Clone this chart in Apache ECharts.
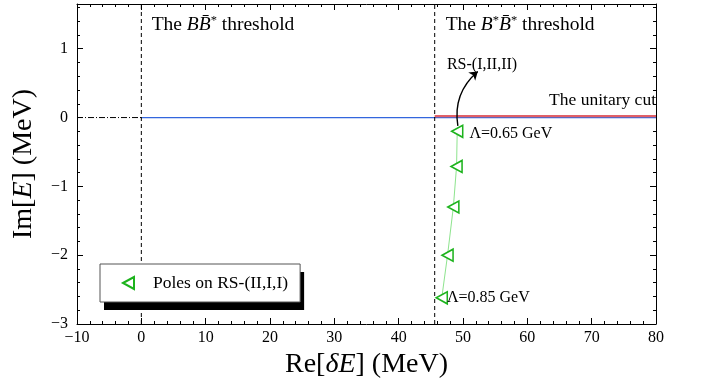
<!DOCTYPE html>
<html>
<head>
<meta charset="utf-8">
<script src="https://cdn.jsdelivr.net/npm/echarts@6/dist/echarts.min.js"></script>
<style>html,body{margin:0;padding:0;background:#fff}#c{width:704px;height:385px}</style>
</head>
<body>
<div id="c"></div>
<script>
// ---- data ----
const xRange = [-10, 80];
const yRange = [-3, 1.65];
const thresholds = [0, 45.6];
const poleRe = [49.1, 49.0, 48.5, 47.6, 46.7];
const poleIm = [-0.20, -0.71, -1.30, -2.00, -2.62];
const poleName = 'Poles on RS-(II,I,I)';
const cutStart = 45.6;
const arrowFrom = [49.2, -0.12];
const arrowTo = [52.3, 0.67];
const annoText = ['{t|The }{i|B}{i|B\u0304}{s|*}{t| threshold}', '{t|The }{i|B}{s|*}{i|B\u0304}{s|*}{t| threshold}', '{m|RS-(I,II,II)}', '{u|The unitary cut}', '{m|\u039B=0.65 GeV}', '{m|\u039B=0.85 GeV}'];
const annoX = [1.6, 47.3, 47.5, 80, 51.0, 47.5];
const annoY = [1.34, 1.34, 0.77, 0.25, -0.24, -2.62];
const annoSide = ['right', 'right', 'right', 'left', 'right', 'right'];

const FONT = 'Liberation Serif';
const green = '#1db31d';
const leftTri = 'path://M0,6 L11,0 L11,12 Z';
const fmt = v => (Math.abs(v - Math.round(v)) < 1e-9 ? String(Math.round(v)).replace('-', '\u2212') : '');

const rich = {
  t: {fontFamily: FONT, fontSize: 19.5, color: '#000'},
  u: {fontFamily: FONT, fontSize: 17.5, color: '#000'},
  m: {fontFamily: FONT, fontSize: 16, color: '#000'},
  i: {fontFamily: FONT, fontSize: 19.5, fontStyle: 'italic', color: '#000'},
  s: {fontFamily: FONT, fontSize: 12.5, color: '#000', padding: [0, 0, 10, 0]}
};

function xAx(pos, labels) {
  return {
    type: 'value', position: pos, min: xRange[0], max: xRange[1], interval: 10,
    axisLine: {show: true, onZero: false, lineStyle: {color: '#000', width: 1}},
    axisTick: {show: true, inside: true, length: 6, lineStyle: {color: '#000'}},
    minorTick: {show: true, splitNumber: 5, length: 3, lineStyle: {color: '#000'}},
    axisLabel: {show: labels, formatter: fmt, fontFamily: FONT, fontSize: 16, color: '#000', margin: 6},
    splitLine: {show: false}, minorSplitLine: {show: false}
  };
}
function yAx(pos, interval, len, labels, line) {
  return {
    type: 'value', position: pos, min: yRange[0], max: yRange[1], interval: interval,
    axisLine: {show: line, onZero: false, lineStyle: {color: '#000', width: 1}},
    axisTick: {show: true, inside: true, length: len, lineStyle: {color: '#000'}},
    axisLabel: {show: labels, formatter: fmt, fontFamily: FONT, fontSize: 16, color: '#000', margin: 9, showMaxLabel: false},
    splitLine: {show: false}
  };
}
const nameRich = {t: {fontFamily: FONT, fontSize: 28, color: '#000'}, i: {fontFamily: FONT, fontSize: 28, fontStyle: 'italic', color: '#000'}};

const xa = [xAx('bottom', true), xAx('top', false)];
xa[0].name = '{t|Re[}{i|\u03B4E}{t|] (MeV)}';
xa[0].nameLocation = 'middle';
xa[0].nameGap = 25;
xa[0].nameTextStyle = {rich: nameRich};
const ya = [yAx('left', 1, 6, true, true), yAx('left', 0.2, 3, false, false), yAx('right', 1, 6, false, true), yAx('right', 0.2, 3, false, false)];
ya[0].name = '{t|Im[}{i|E}{t|] (MeV)}';
ya[0].nameLocation = 'middle';
ya[0].nameGap = 39;
ya[0].nameRotate = 90;
ya[0].nameTextStyle = {rich: nameRich};

const series = [];
// y = 0 lines
series.push({type: 'line', data: [[xRange[0], 0], [thresholds[0], 0]], symbol: 'none', silent: true,
  lineStyle: {color: '#000', width: 1, type: [6, 2, 1, 2]}});
series.push({type: 'line', data: [[thresholds[0], 0], [xRange[1], 0]], symbol: 'none', silent: true,
  lineStyle: {color: '#3366dd', width: 1.3}});
series.push({type: 'line', data: [[cutStart, 0.022], [xRange[1], 0.022]], symbol: 'none', silent: true,
  lineStyle: {color: '#e06068', width: 2.2}});
// threshold verticals
thresholds.forEach(t => series.push({type: 'line', data: [[t, yRange[0]], [t, yRange[1]]], symbol: 'none', silent: true,
  lineStyle: {color: '#000', width: 1, type: [4, 3]}}));
// pole trajectory line
series.push({type: 'line', data: poleRe.map((x, k) => [x, poleIm[k]]), symbol: 'none', silent: true,
  lineStyle: {color: '#8ee48e', width: 1}});
// poles
series.push({name: poleName, type: 'scatter', data: poleRe.map((x, k) => [x, poleIm[k]]),
  symbol: leftTri, symbolSize: [11, 12],
  itemStyle: {color: '#fff', borderColor: green, borderWidth: 1.6, opacity: 1}, z: 5});
// arrow
series.push({type: 'lines', coordinateSystem: 'cartesian2d', silent: true,
  data: [{coords: [arrowFrom, arrowTo]}], symbol: ['none', 'arrow'], symbolSize: 8,
  lineStyle: {color: '#000', width: 1.4, curveness: 0.28, opacity: 1}, z: 6});
// annotations
series.push({type: 'scatter', silent: true, symbolSize: 0, itemStyle: {opacity: 1}, clip: false,
  data: annoX.map((x, k) => ({value: [x, annoY[k]], label: {show: true, position: annoSide[k], distance: 0, formatter: annoText[k], rich: rich}})), z: 7});

const legendBase = {
  data: [{name: poleName, icon: leftTri}], left: 100, top: 264, orient: 'horizontal',
  padding: [10, 12, 10, 22], itemWidth: 11, itemHeight: 12,
  textStyle: {fontFamily: FONT, fontSize: 17.5, color: '#000', padding: [0, 0, 0, 14]},
  selectedMode: false
};
const legendShadow = Object.assign({}, legendBase, {
  backgroundColor: '#fff', borderWidth: 0,
  shadowColor: '#000', shadowBlur: 0, shadowOffsetX: 4, shadowOffsetY: 8,
  textStyle: Object.assign({}, legendBase.textStyle, {color: 'rgba(0,0,0,0)'}),
  itemStyle: {color: 'rgba(0,0,0,0)', borderColor: 'rgba(0,0,0,0)'}
});
const legendFrame = Object.assign({}, legendBase, {
  backgroundColor: 'transparent', borderColor: '#555', borderWidth: 1
});

const chart = echarts.init(document.getElementById('c'), null, {renderer: 'canvas'});
chart.setOption({
  animation: false,
  backgroundColor: '#fff',
  grid: {left: 77, right: 48, top: 4, bottom: 61, containLabel: false},
  xAxis: xa,
  yAxis: ya,
  legend: [legendShadow, legendFrame],
  series: series
});
</script>
</body>
</html>
